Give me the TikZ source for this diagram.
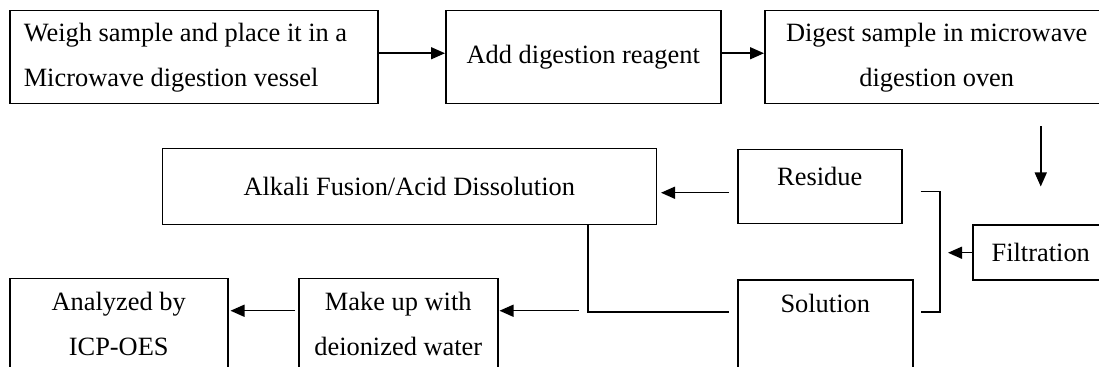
\documentclass[tikz,border=0pt]{standalone}
\usepackage{fontspec}
\setmainfont{Liberation Serif}
\usetikzlibrary{positioning,arrows.meta}

\tikzset{
    stepbox/.style={draw, line width=0.75pt, inner sep=0pt, align=center, minimum height=46.5pt},
    tallbox/.style={draw, line width=0.75pt, inner sep=0pt, text height=16pt, text depth=60pt},
    flow/.style={-{Triangle[length=7pt,width=6pt]}, line width=0.75pt},
    link/.style={line width=0.75pt}
}

\begin{document}
\begin{tikzpicture}[font=\fontsize{13.2}{22.5}\selectfont]%[x=1pt,y=1pt]
    \useasboundingbox (0,0) rectangle (549.5pt,-183.5pt);
    \clip (0,0) rectangle (549.5pt,-183.5pt);

    % top row
    \node[stepbox, anchor=north west, text width=170pt, inner xsep=7pt, align=flush left] (weigh) at (4.5pt,-5pt) {Weigh sample and place it in a\\Microwave digestion vessel};
    \node[stepbox, right=33.25pt of weigh, minimum width=137.5pt] (reagent) {Add digestion reagent};
    \node[stepbox, right=21.25pt of reagent, minimum width=172pt] (oven) {Digest sample in microwave\\digestion oven};

    % middle row
    \node[stepbox, anchor=north east, minimum width=68pt, minimum height=27.5pt] (filtration) at ([yshift=-60pt]oven.south east) {Filtration};
    \node[stepbox, anchor=north west, minimum width=82pt, minimum height=0pt, text height=18pt, text depth=19pt] (residue) at (368.5pt,-74.5pt) {Residue};
    \node[stepbox, left=40pt of residue, minimum width=247pt, minimum height=38pt] (alkali) {Alkali Fusion/Acid Dissolution};

    % bottom row
    \node[tallbox, anchor=north west, minimum width=87.5pt] (solution) at ([yshift=-27.5pt]residue.south west) {Solution};
    \node[tallbox, anchor=north west] (makeup) at (149pt,-139pt) {\parbox[t]{99.5pt}{\centering Make up with\\deionized water}};
    \node[tallbox, anchor=north west] (analyzed) at (4.5pt,-139pt) {\parbox[t]{109pt}{\centering Analyzed by\\ICP-OES}};

    \coordinate (drop) at (filtration.north |- oven.south);
    \coordinate (fork) at ([xshift=-16pt]filtration.west);

    \path[flow]
        ([yshift=2pt]weigh.east) edge ([yshift=2pt]reagent.west)
        ([yshift=2pt]reagent.east) edge ([yshift=2pt]oven.west)
        ([yshift=-11pt]drop) edge ([yshift=19pt]filtration.north)
        (filtration.west) edge ([xshift=4pt]fork)
        ([xshift=-4pt,yshift=-3pt]residue.west) edge ([xshift=2pt,yshift=-3pt]alkali.east)
        ([xshift=40pt]makeup.base east) edge ([xshift=0.5pt]makeup.base east)
        ([xshift=-1.5pt]makeup.base west) edge ([xshift=1pt]analyzed.base east);

    \draw[link] ([xshift=9pt,yshift=-2.5pt]residue.east) -| (fork |- solution.base) -- ([xshift=3.5pt]solution.base east);
    \draw[link] ([xshift=-34.5pt]alkali.south east) |- ([xshift=-4pt]solution.base west);
\end{tikzpicture}
\end{document}
